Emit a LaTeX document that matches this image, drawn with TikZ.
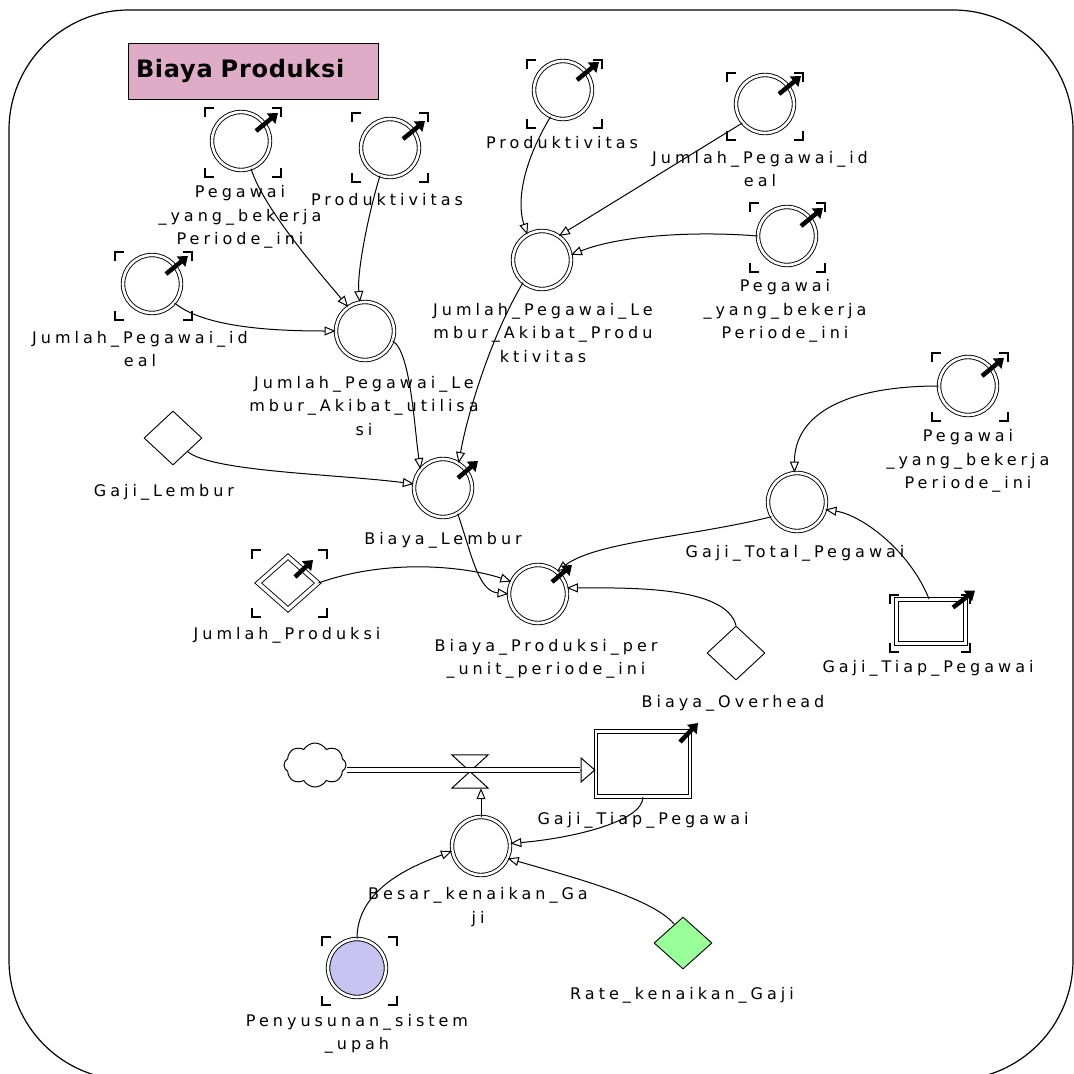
\documentclass[tikz,border=0pt]{standalone}
\usepackage{fontspec}
\setmainfont{DejaVu Sans}
\newfontfamily\lblfont{DejaVu Sans}[LetterSpace=25]
\newfontfamily\ttlfont{DejaVu Sans}[LetterSpace=3]
\usetikzlibrary{arrows.meta,shapes.geometric,shapes.symbols}
\definecolor{titlepink}{HTML}{DFACC8}
\definecolor{lav}{HTML}{C8C4F2}
\definecolor{mint}{HTML}{99FF99}
\newcommand\gbrk[5]{%
 \draw[brk] ([shift={(#2,#3+9)}]#1.center) -- ([shift={(#2,#3)}]#1.center) -- ([shift={(#2+9,#3)}]#1.center);
 \draw[brk] ([shift={(#4-9,#3)}]#1.center) -- ([shift={(#4,#3)}]#1.center) -- ([shift={(#4,#3+9)}]#1.center);
 \draw[brk] ([shift={(#2,#5-9)}]#1.center) -- ([shift={(#2,#5)}]#1.center) -- ([shift={(#2+9,#5)}]#1.center);
 \draw[brk] ([shift={(#4-9,#5)}]#1.center) -- ([shift={(#4,#5)}]#1.center) -- ([shift={(#4,#5-9)}]#1.center);
}
\newcommand\garr[5]{\draw[garrow] ([shift={(#2,#3)}]#1.center) -- ([shift={(#4,#5)}]#1.center);}
\begin{document}
\begin{tikzpicture}[x=1pt,y=-1pt,
  aux/.style={circle, draw, double, double distance=2.6pt, line width=0.9pt, minimum size=58pt, inner sep=0pt},
  cst/.style={diamond, draw, line width=0.9pt, minimum width=58pt, minimum height=54pt, inner sep=0pt},
  lbl/.style={font=\lblfont\fontsize{16}{23.5}\selectfont, align=center, inner sep=0pt},
  lnk/.style={line width=1pt, -{Triangle[open,length=11pt,width=9pt]}},
  brk/.style={line width=1.3pt},
  garrow/.style={line width=4.5pt, -{Triangle[length=9pt,width=13pt]}},
  pipe/.style={double, double distance=3.6pt, line width=1pt},
  titlebox/.style={draw, line width=1pt, fill=titlepink, minimum width=250pt, minimum height=56pt, text width=234pt, align=left, inner xsep=8pt, font=\ttlfont\bfseries\fontsize{24}{28}\selectfont}
]
\useasboundingbox (0,0) rectangle (1074,1074);
\fill[white] (0,0) rectangle (1074,1074);
\draw[line width=1.2pt, rounded corners=120pt] (9,10) rectangle (1073,1080);

\node[titlebox] (title) at (253,71) {Biaya Produksi};

% auxiliaries
\node[aux] (peg1) at (241,141) {};
\node[aux] (prod1) at (390,148) {};
\node[aux] (jpi1) at (152,284) {};
\node[aux] (jpla) at (365,331) {};
\node[aux] (prod2) at (563,90) {};
\node[aux] (jpi2) at (765,104) {};
\node[aux] (peg2) at (787,236) {};
\node[aux] (jplp) at (542,260) {};
\node[cst] (gl) at (173,438) {};
\node[aux] (bl) at (443,488) {};
\node[diamond, draw, double, double distance=3.5pt, line width=0.9pt, minimum width=60pt, minimum height=53pt, inner sep=0pt] (jp) at (288,583) {};
\node[aux] (bppu) at (538,594) {};
\node[aux] (peg3) at (968,386) {};
\node[aux] (gtp) at (797,502) {};
\node[draw, double, double distance=2.6pt, line width=0.9pt, minimum width=69pt, minimum height=44pt, inner sep=0pt] (gtp2) at (931,621.5) {};
\node[cst] (bo) at (736,653) {};

\node[cloud, draw, line width=1pt, cloud puffs=8, cloud puff arc=120, aspect=1.4, minimum width=62pt, minimum height=44pt, inner sep=0pt] (cloud) at (315,765) {};
\node[minimum width=36pt, minimum height=33pt, inner sep=0pt] (valve) at (470,771.5) {};
\node[draw, double, double distance=2.6pt, line width=0.9pt, minimum width=94pt, minimum height=65pt, inner sep=0pt] (stock) at (643,764) {};
\node[aux] (bkg) at (481,846) {};
\node[aux, fill=lav] (pss) at (357,968) {};
\node[cst, fill=mint, minimum height=52pt] (rkg) at (683,943) {};

% ghost brackets
\gbrk{peg1}{-36}{-33}{40}{36}
\gbrk{prod1}{-38}{-35}{38}{34}
\gbrk{jpi1}{-37}{-32}{40}{36}
\gbrk{prod2}{-36}{-30}{39}{38}
\gbrk{jpi2}{-38}{-31}{38}{36}
\gbrk{peg2}{-37}{-33}{38}{36}
\gbrk{peg3}{-36}{-33}{40}{35}
\gbrk{jp}{-36}{-33}{39}{34}
\gbrk{gtp2}{-41}{-26.5}{39}{30.5}
\gbrk{pss}{-35}{-31}{40}{37}

% labels
\node[lbl] (peg1l) at (240,217) {Pegawai\\\_yang\_bekerja\\Periode\_ini};
\node[lbl] (prod1l) at (387,200) {Produktivitas};
\node[lbl] (jpi1l) at (140,349) {Jumlah\_Pegawai\_id\\eal};
\node[lbl] (jplal) at (364,406) {Jumlah\_Pegawai\_Le\\mbur\_Akibat\_utilisa\\si};
\node[lbl] (prod2l) at (562,143) {Produktivitas};
\node[lbl] (jpi2l) at (760,169) {Jumlah\_Pegawai\_id\\eal};
\node[lbl] (peg2l) at (785,311) {Pegawai\\\_yang\_bekerja\\Periode\_ini};
\node[lbl] (jplpl) at (543,333) {Jumlah\_Pegawai\_Le\\mbur\_Akibat\_Produ\\ktivitas};
\node[lbl] (gll) at (164,492) {Gaji\_Lembur};
\node[lbl] (bll) at (443,540) {Biaya\_Lembur};
\node[lbl] (jpl) at (287,635) {Jumlah\_Produksi};
\node[lbl] (bppul) at (546,659) {Biaya\_Produksi\_per\\\_unit\_periode\_ini};
\node[lbl] (peg3l) at (968,461) {Pegawai\\\_yang\_bekerja\\Periode\_ini};
\node[lbl] (gtpl) at (795,553) {Gaji\_Total\_Pegawai};
\node[lbl] (gtp2l) at (928,668) {Gaji\_Tiap\_Pegawai};
\node[lbl] (bol) at (733,703) {Biaya\_Overhead};
\node[lbl] (stockl) at (643,820) {Gaji\_Tiap\_Pegawai};
\node[lbl] (bkgl) at (478,907) {Besar\_kenaikan\_Ga\\ji};
\node[lbl] (pssl) at (357,1034) {Penyusunan\_sistem\\\_upah};
\node[lbl] (rkgl) at (682,995) {Rate\_kenaikan\_Gaji};

% links
\draw[lnk] (peg1.-70) .. controls +(12,40) and +(-25,-30) .. (jpla.125);
\draw[lnk] (prod1.-110) .. controls +(-12,40) and +(-3,-30) .. (jpla.100);
\draw[lnk] (jpi1.-40) .. controls +(30,25) and +(-60,0) .. (jpla.180);
\draw[lnk] (jpla.-20) .. controls +(18,10) and +(-6,-40) .. (bl.140);
\draw[lnk] (jplp.-130) .. controls +(-30,50) and +(10,-55) .. (bl.58);
\draw[lnk] (prod2.-115) .. controls +(-30,50) and +(-10,-30) .. (jplp.120);
\draw[lnk] (jpi2.-140) -- (jplp.55);
\draw[lnk] (peg2.180) .. controls +(-60,-5) and +(50,-20) .. (jplp.10);
\draw[lnk] (gl.south east) .. controls +(25,20) and +(-80,-10) .. (bl.172);
\draw[lnk] (bl.-60) .. controls +(15,45) and +(-30,-3) .. (bppu.180);
\draw[lnk] (jp.east) .. controls +(70,-25) and +(-45,-15) .. (bppu.155);
\draw[lnk] (gtp.-150) .. controls +(-80,20) and +(40,-30) .. (bppu.50);
\draw[lnk] (bo.north) .. controls +(-10,-40) and +(60,0) .. (bppu.12);
\draw[lnk] (peg3.180) .. controls +(-90,0) and +(0,-60) .. (gtp.95);
\draw[lnk] (gtp2.95) .. controls +(-20,-50) and +(35,5) .. (gtp.-15);
\draw[lnk] (stock.south) .. controls +(0,25) and +(60,-5) .. (bkg.5);
\draw[lnk] (bkg.north) -- (bkg.north |- valve.south);
\draw[lnk] (pss.north) .. controls +(0,-50) and +(-40,15) .. (bkg.190);
\draw[lnk] (rkg.115) .. controls +(-20,-25) and +(70,20) .. (bkg.-25);

% flow
\coordinate (p0) at ([yshift=-5pt]cloud.east);
\coordinate (p1) at (stock.west |- p0);
\draw[pipe] (p0) -- ([xshift=-16pt]p1);
\draw[line width=1pt, -{Triangle[open,length=15pt,width=26pt]}] ([xshift=-16pt]p1) -- (p1);
\draw[line width=1pt, fill=white] (valve.north west) -- (valve.north east) -- (valve.south west) -- (valve.south east) -- cycle;
\draw[pipe] ([xshift=-18pt]valve.west |- p0) -- ([xshift=18pt]valve.east |- p0);

% ghost arrows
\garr{peg1}{15}{-10}{37}{-28}
\garr{prod1}{13}{-9}{35}{-27}
\garr{jpi1}{14}{-10}{36}{-28}
\garr{prod2}{14}{-10}{36}{-28}
\garr{jpi2}{14}{-10}{36}{-28}
\garr{peg2}{14}{-10}{36}{-28}
\garr{peg3}{14}{-10}{36}{-28}
\garr{bl}{15}{-10}{35}{-27}
\garr{bppu}{14}{-12}{34}{-29}
\garr{jp}{7}{-6}{25}{-23}
\garr{gtp2}{22}{-14}{44}{-31}
\garr{stock}{37}{-22}{55}{-41}
\end{tikzpicture}
\end{document}
